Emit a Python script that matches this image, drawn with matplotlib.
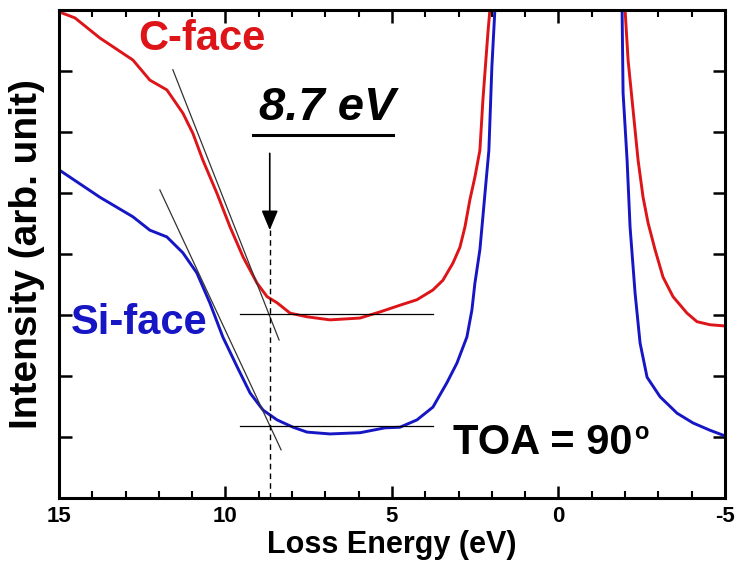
import matplotlib
matplotlib.use("Agg")
import matplotlib.pyplot as plt
from matplotlib.ticker import MultipleLocator, NullFormatter

plt.rcParams['font.family'] = ['Liberation Sans', 'DejaVu Sans']
plt.rcParams['font.weight'] = 'bold'

# C-face spectrum (loss energy eV, intensity arb.) - low-energy-loss side of the elastic peak
c_energy = [15.00, 14.52, 13.77, 12.78, 12.27, 11.76, 11.28, 10.98, 10.68, 10.26, 9.86, 9.47,
            9.05, 8.75, 8.45, 8.06, 7.55, 6.86, 5.96, 5.36, 4.76, 4.25, 3.77, 3.47, 3.17,
            2.96, 2.81, 2.66, 2.51, 2.36, 2.27, 2.12, 2.06, 2.03]
c_int = [7.97, 7.87, 7.54, 7.18, 6.85, 6.69, 6.31, 5.98, 5.54, 5.00, 4.44, 3.95,
         3.52, 3.30, 3.20, 3.03, 2.97, 2.92, 2.95, 3.05, 3.16, 3.25, 3.41, 3.57, 3.85,
         4.11, 4.44, 4.89, 5.26, 5.70, 6.52, 7.62, 8.00, 8.20]
# C-face, energy-gain side
c_energy_r = [-1.97, -2.00, -2.09, -2.24, -2.39, -2.54, -2.69, -2.90, -3.14, -3.44, -3.86,
              -4.16, -4.55, -5.00]
c_int_r = [8.20, 8.00, 7.18, 6.36, 5.54, 4.93, 4.51, 4.07, 3.62, 3.30, 3.03,
           2.89, 2.84, 2.82]

# Si-face spectrum
s_energy = [15.00, 13.77, 12.78, 12.27, 11.76, 11.28, 10.86, 10.47, 10.08, 9.65, 9.26, 8.87,
            8.45, 7.97, 7.55, 6.86, 5.96, 5.21, 4.76, 4.25, 3.77, 3.35, 3.05, 2.75, 2.60,
            2.51, 2.36, 2.27, 2.18, 2.09, 2.00, 1.91, 1.88]
s_int = [5.38, 4.93, 4.61, 4.39, 4.28, 4.02, 3.69, 3.20, 2.64, 2.15, 1.72, 1.44,
         1.28, 1.16, 1.08, 1.05, 1.07, 1.15, 1.16, 1.28, 1.49, 1.89, 2.21, 2.64, 3.08,
         3.52, 4.07, 4.61, 5.16, 5.70, 7.07, 8.00, 8.20]
s_energy_r = [-1.88, -1.91, -1.94, -2.06, -2.15, -2.30, -2.45, -2.66, -3.05, -3.56, -4.04,
              -4.55, -4.94, -5.00]
s_int_r = [8.20, 8.00, 6.64, 5.54, 4.44, 3.36, 2.54, 1.98, 1.66, 1.39, 1.23,
           1.11, 1.03, 1.02]

# tangent / baseline construction lines
c_tangent_x = [11.58, 8.39]
c_tangent_y = [7.02, 2.59]
s_tangent_x = [11.97, 8.33]
s_tangent_y = [5.05, 0.79]
base_x = [9.57, 3.77]
c_base_y = 3.02
s_base_y = 1.18
onset = 8.67
onset_label = '8.7 eV'

x_ticks = [15, 10, 5, 0, -5]
x_ticklabels = ['15', '10', '5', '0', '-5']

red = '#dd1418'
blue = '#1616c4'

fig = plt.figure(figsize=(7.37, 5.8), dpi=100)
ax = fig.add_axes([0.080, 0.1414, 0.9037, 0.8414])

for xs, ys, col in [(c_energy, c_int, red), (c_energy_r, c_int_r, red),
                    (s_energy, s_int, blue), (s_energy_r, s_int_r, blue)]:
    ax.plot(xs, ys, color=col, lw=2.1, solid_joinstyle='round', solid_capstyle='round')

ax.plot(c_tangent_x, c_tangent_y, color='#333333', lw=0.9)
ax.plot(s_tangent_x, s_tangent_y, color='#333333', lw=0.9)
ax.plot(base_x, [c_base_y, c_base_y], color='black', lw=0.9)
ax.plot(base_x, [s_base_y, s_base_y], color='black', lw=0.9)
ax.plot([onset, onset], [0, 4.39], color='black', lw=1.0, ls=(0, (4, 3)))

ax.annotate('', xy=(onset, 4.39), xytext=(onset, 5.65),
            arrowprops=dict(arrowstyle='-|>,head_length=1.2,head_width=0.5',
                            color='black', lw=1.2, shrinkA=0, shrinkB=0))

ax.text(6.95, 6.40, onset_label, fontsize=34, fontweight='bold', fontstyle='italic',
        ha='center', va='center')
ax.plot([9.17, 4.97], [5.95, 5.95], color='black', lw=2.2)

ax.text(10.71, 7.52, 'C-face', color=red, fontsize=30, fontweight='bold', ha='center', va='center')
ax.text(12.60, 2.87, 'Si-face', color=blue, fontsize=30, fontweight='bold', ha='center', va='center')
ax.text(3.17, 0.90, 'TOA = 90', fontsize=30, fontweight='bold', ha='left', va='center')
ax.text(-2.27, 1.08, 'o', fontsize=17, fontweight='bold', ha='left', va='center')

ax.set_xlim(15, -5)
ax.set_ylim(0, 8)
ax.set_xticks(x_ticks)
ax.set_xticklabels(x_ticklabels, fontsize=16, fontweight='bold')
ax.xaxis.set_minor_locator(MultipleLocator(1))
ax.yaxis.set_major_locator(MultipleLocator(1))
ax.yaxis.set_major_formatter(NullFormatter())
ax.tick_params(axis='both', which='major', direction='in', length=9, width=1.8,
               top=True, right=True, pad=6)
ax.tick_params(axis='x', which='minor', direction='in', length=5, width=1.5, top=True)
for sp in ax.spines.values():
    sp.set_linewidth(2.2)

ax.set_xlabel('Loss Energy (eV)', fontsize=22, fontweight='bold', labelpad=2)
ax.set_ylabel('Intensity (arb. unit)', fontsize=28, fontweight='bold', labelpad=4)

fig.savefig('out.png', dpi=100)
